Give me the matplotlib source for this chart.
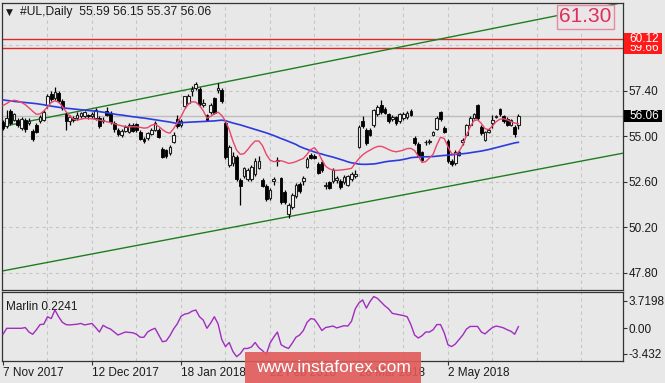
import matplotlib
matplotlib.use('Agg')
import matplotlib.pyplot as plt
from matplotlib.patches import Rectangle
import numpy as np

plt.rcParams['font.family'] = ['Liberation Sans', 'DejaVu Sans']

# ---------------------- data ----------------------
title_text = '#UL,Daily  55.59 56.15 55.37 56.06'

opens = [55.75, 55.55, 56.35, 55.85, 55.85, 55.45, 55.85, 55.72, 55.30, 55.60,
         55.78, 55.85, 56.65, 57.25, 57.00, 57.30, 56.85, 56.15, 55.80, 55.95,
         55.95, 56.05, 56.05, 56.10, 56.05, 55.95, 55.95, 55.78, 56.35, 56.25,
         55.70, 55.35, 55.05, 55.28, 55.25, 55.62, 55.65, 55.25, 54.88, 54.90,
         55.12, 55.35, 55.35, 54.35, 54.25, 54.10, 54.72, 55.92, 55.60, 56.60,
         56.75, 57.40, 57.55, 57.50, 56.65, 56.10, 56.30, 57.00, 57.45, 57.45,
         55.70, 53.50, 53.60, 53.90, 52.70, 52.88, 52.75, 52.72, 53.00, 53.35,
         52.70, 52.40, 51.75, 52.62, 53.70, 52.78, 52.05, 50.88, 51.25, 51.85,
         52.50, 52.62, 53.40, 54.00, 53.98, 53.55, 53.65, 52.35, 52.58, 52.65,
         52.70, 52.65, 52.60, 52.45, 52.72, 52.90, 54.45, 55.78, 55.35, 55.35,
         55.60, 56.15, 56.65, 56.45, 56.15, 55.90, 56.00, 55.78, 55.95, 56.00,
         56.32, 54.90, 54.60, 54.15, 54.68, 54.70, 55.08, 55.40, 56.30, 55.45,
         54.75, 53.70, 53.60, 54.02, 54.68, 55.08, 55.60, 55.95, 56.65, 55.50,
         54.82, 55.25, 55.70, 56.02, 56.45, 56.05, 55.92, 55.60, 55.50, 55.59]
highs = [55.85, 56.40, 56.45, 56.25, 55.95, 56.00, 55.95, 55.95, 55.40, 55.70,
         56.10, 56.40, 57.25, 57.40, 57.62, 57.40, 56.95, 56.30, 56.10, 56.05,
         56.30, 56.30, 56.35, 56.20, 56.30, 56.48, 56.05, 56.00, 56.55, 56.35,
         55.80, 55.45, 55.40, 55.58, 55.68, 55.72, 55.72, 55.35, 54.98, 55.22,
         55.45, 55.78, 55.45, 54.45, 54.35, 54.55, 55.25, 56.12, 55.90, 57.15,
         57.25, 57.65, 57.88, 57.60, 56.95, 56.20, 56.75, 57.05, 57.82, 57.55,
         55.85, 54.55, 54.15, 54.00, 52.80, 53.40, 53.30, 53.50, 53.85, 53.95,
         52.80, 52.50, 52.25, 52.86, 53.90, 52.85, 52.15, 51.50, 52.00, 52.55,
         52.60, 52.90, 53.90, 54.10, 54.05, 53.65, 53.75, 52.60, 52.65, 53.30,
         52.90, 52.72, 52.95, 52.98, 53.10, 53.20, 55.60, 56.05, 55.45, 55.45,
         56.45, 56.65, 56.92, 56.55, 56.25, 56.10, 56.08, 56.22, 56.28, 56.35,
         56.45, 55.00, 54.68, 54.22, 54.82, 54.85, 55.30, 56.05, 56.35, 55.55,
         54.85, 53.78, 54.25, 54.25, 54.90, 55.65, 56.05, 56.25, 56.70, 55.58,
         55.30, 55.42, 56.10, 56.12, 56.50, 56.12, 56.00, 55.92, 55.58, 56.15]
lows = [55.35, 55.45, 55.60, 55.80, 55.50, 55.35, 55.25, 55.60, 54.75, 55.15,
        55.70, 55.80, 56.50, 56.85, 56.90, 56.75, 56.40, 55.35, 55.60, 55.75,
        55.85, 55.95, 55.95, 55.90, 55.95, 55.88, 55.42, 55.70, 56.05, 55.65,
        55.25, 55.00, 54.98, 55.20, 55.18, 55.22, 55.25, 54.78, 54.65, 54.82,
        55.05, 55.30, 54.90, 53.85, 53.85, 54.02, 54.65, 55.45, 55.50, 56.50,
        56.70, 57.15, 57.45, 56.60, 56.55, 55.78, 56.20, 56.15, 57.30, 56.75,
        53.80, 53.40, 53.45, 52.65, 51.35, 52.80, 52.65, 52.65, 52.90, 53.25,
        52.30, 51.60, 51.65, 52.43, 53.45, 51.45, 51.45, 50.68, 51.15, 51.75,
        52.00, 52.45, 53.30, 53.78, 53.78, 53.00, 53.10, 52.20, 52.20, 52.55,
        52.55, 52.22, 52.50, 52.40, 52.65, 52.80, 54.40, 55.45, 54.55, 55.00,
        55.50, 56.05, 56.20, 56.15, 55.72, 55.82, 55.62, 55.70, 55.88, 55.92,
        56.05, 54.55, 53.88, 53.68, 54.55, 54.58, 55.00, 55.35, 55.80, 55.15,
        53.60, 53.45, 53.50, 53.95, 54.55, 55.00, 55.55, 55.90, 55.88, 55.08,
        54.75, 55.18, 55.45, 55.95, 56.05, 55.70, 55.55, 55.52, 54.97, 55.37]
closes = [55.45, 55.95, 55.70, 56.15, 55.60, 55.90, 55.40, 55.82, 54.85, 55.25,
          56.00, 56.28, 57.15, 56.95, 57.35, 56.85, 56.50, 55.80, 56.00, 55.87,
          56.10, 56.22, 56.28, 56.07, 56.20, 56.38, 55.52, 55.88, 56.12, 55.75,
          55.38, 55.10, 55.30, 55.48, 55.58, 55.30, 55.32, 54.85, 54.75, 55.15,
          55.35, 55.68, 54.98, 53.92, 53.95, 54.45, 55.05, 55.55, 55.80, 57.10,
          57.15, 57.50, 57.75, 56.70, 56.75, 55.88, 56.65, 56.25, 57.55, 56.85,
          53.90, 54.45, 53.95, 52.72, 52.38, 53.30, 53.20, 53.40, 53.70, 53.72,
          52.38, 51.68, 52.15, 52.72, 53.75, 51.55, 51.55, 51.38, 51.90, 52.42,
          52.10, 52.78, 53.82, 53.85, 53.85, 53.08, 53.20, 52.45, 52.28, 53.20,
          52.78, 52.30, 52.85, 52.88, 53.02, 53.02, 55.50, 55.55, 54.65, 55.08,
          56.38, 56.55, 56.30, 56.22, 55.80, 56.00, 55.70, 56.15, 56.20, 56.22,
          56.12, 54.65, 53.95, 53.75, 54.72, 54.74, 55.22, 55.95, 55.90, 55.25,
          53.70, 53.55, 54.18, 54.18, 54.78, 55.58, 55.95, 56.20, 55.95, 55.15,
          55.22, 55.32, 55.85, 56.06, 56.15, 55.78, 55.62, 55.85, 55.10, 56.06]

fast_ma = [56.62, 56.73, 56.85, 56.90, 56.86, 56.78, 56.67, 56.50, 56.32, 56.16,
           56.18, 56.33, 56.55, 56.78, 56.87, 56.80, 56.58, 56.30, 56.06, 55.90,
           55.85, 55.90, 55.94, 55.94, 55.92, 55.89, 55.85, 55.81, 55.77, 55.72,
           55.66, 55.60, 55.55, 55.51, 55.50, 55.50, 55.50, 55.47, 55.43, 55.45,
           55.58, 55.64, 55.52, 55.35, 55.22, 55.16, 55.40, 55.72, 56.03, 56.42,
           56.70, 56.82, 56.80, 56.62, 56.35, 55.95, 56.05, 56.18, 56.27, 56.10,
           55.80, 55.35, 54.75, 54.27, 54.05, 54.08, 54.30, 54.55, 54.75, 54.75,
           54.50, 54.05, 53.75, 53.66, 53.68, 53.71, 53.65, 53.57, 53.60, 53.66,
           53.75, 53.83, 54.05, 54.30, 54.40, 54.15, 53.75, 53.42, 53.28, 53.22,
           53.20, 53.22, 53.24, 53.27, 53.31, 53.58, 53.82, 54.02, 54.16, 54.27,
           54.38, 54.46, 54.47, 54.40, 54.30, 54.22, 54.18, 54.22, 54.27, 54.35,
           54.36, 54.25, 53.95, 53.62, 53.66, 53.85, 54.05, 54.55, 54.95, 54.88,
           54.45, 54.08, 54.05, 54.20, 54.55, 55.05, 55.50, 55.82, 55.87, 55.68,
           55.40, 55.35, 55.55, 55.77, 55.90, 55.92, 55.86, 55.77, 55.70, 55.66]

slow_ma = [56.92, 56.89, 56.87, 56.84, 56.82, 56.80, 56.78, 56.76, 56.74, 56.72,
           56.69, 56.66, 56.62, 56.59, 56.56, 56.53, 56.50, 56.48, 56.46, 56.44,
           56.42, 56.40, 56.38, 56.36, 56.34, 56.32, 56.30, 56.27, 56.24, 56.21,
           56.17, 56.14, 56.12, 56.09, 56.06, 56.03, 56.01, 55.98, 55.96, 55.93,
           55.90, 55.87, 55.84, 55.81, 55.78, 55.75, 55.71, 55.68, 55.70, 55.73,
           55.74, 55.75, 55.76, 55.77, 55.78, 55.79, 55.80, 55.81, 55.83, 55.85,
           55.82, 55.76, 55.70, 55.65, 55.60, 55.54, 55.48, 55.42, 55.36, 55.30,
           55.24, 55.18, 55.11, 55.04, 54.96, 54.88, 54.81, 54.73, 54.65, 54.57,
           54.46, 54.38, 54.31, 54.24, 54.17, 54.11, 54.06, 54.00, 53.95, 53.90,
           53.84, 53.78, 53.72, 53.65, 53.60, 53.57, 53.53, 53.52, 53.52, 53.53,
           53.54, 53.57, 53.61, 53.65, 53.68, 53.70, 53.72, 53.74, 53.78, 53.82,
           53.87, 53.89, 53.90, 53.91, 53.92, 53.92, 53.93, 53.95, 53.97, 53.99,
           54.00, 54.02, 54.04, 54.06, 54.08, 54.10, 54.13, 54.16, 54.19, 54.22,
           54.26, 54.30, 54.35, 54.40, 54.45, 54.50, 54.55, 54.60, 54.65, 54.68]

marlin = [-0.8, 0.0, 0.0, 0.0, 0.0, 0.0, 0.1, -0.5, -0.8, -0.2,
          0.5, 0.55, 1.55, 1.3, 2.45, 1.55, 0.8, 0.5, 0.45, 0.5,
          0.55, 0.65, 0.45, 0.55, 0.65, 0.1, -0.5, 0.4, 0.1, -0.1,
          -0.5, -0.9, -0.7, -0.5, -0.55, -0.6, -0.8, -1.2, -1.2, -0.5,
          -0.2, 0.0, -0.9, -1.8, -1.7, -1.0, -0.1, 0.6, 1.6, 1.9,
          2.0, 2.3, 2.45, 1.55, 1.1, 0.0, 0.7, 1.55, 0.6, -1.5,
          -2.45, -1.9, -3.1, -3.8, -3.4, -2.7, -2.7, -2.5, -1.9, -2.6,
          -3.0, -3.5, -2.0, -1.2, -0.5, -2.2, -2.5, -2.7, -2.0, -1.2,
          -0.9, -0.3, 0.8, 1.3, 1.2, 0.5, -0.3, 0.1, 0.2, 0.3,
          0.05, 0.2, 0.35, 0.3, 0.95, 2.6, 3.4, 3.8, 2.7, 3.6,
          4.25, 4.0, 3.5, 3.0, 2.6, 2.0, 1.9, 1.8, 1.7, 1.55,
          0.5, -0.9, -1.3, -1.0, -0.5, -0.5, -0.2, 0.5, 0.5, -0.6,
          -2.2, -2.45, -2.1, -1.5, -0.9, -0.1, 0.25, 0.25, 0.25, -0.5,
          -0.75, -0.3, 0.1, 0.3, 0.2, 0.05, -0.2, -0.4, -0.8, 0.2241]

marlin_label = 'Marlin 0.2241'

# channel lines: (bar, price) anchors
upper_channel_bars = [0, 167]
upper_channel_prices = [55.52, 62.05]
lower_channel_bars = [0, 167]
lower_channel_prices = [47.90, 54.10]

resistance_levels = [60.12, 59.66]
last_price = 56.06
target_label = '61.30'
target_bar = 157.1
target_price = 61.30

price_ticks = [47.80, 50.20, 52.60, 55.00, 57.40, 59.80]
price_tick_labels = ['47.80', '50.20', '52.60', '55.00', '57.40', '']
marlin_ticks = [-3.432, 0.0, 3.7198]
marlin_tick_labels = ['-3.432', '0.00', '3.7198']
date_bars = [0, 24, 48, 72, 96, 120]
date_labels = ['7 Nov 2017', '12 Dec 2017', '18 Jan 2018', '22 Feb 2018',
               '28 Mar 2018', '2 May 2018']

# ---------------------- layout ----------------------
W, H = 665, 383
bg = '#e8e8e8'
grid_c = '#c6c6c6'
txt_c = '#1a1a1a'

fig = plt.figure(figsize=(W / 100, H / 100), dpi=100, facecolor=bg)
ax = fig.add_axes([2 / W, 1 - 290 / H, 620.7 / W, 287 / H], facecolor=bg)
ax2 = fig.add_axes([2 / W, 1 - 361 / H, 620.7 / W, 68.7 / H], facecolor=bg)

xlim = (-0.27, 167.13)
bars = np.arange(len(closes))
grid_bars = np.arange(0, 168, 12)

# ---------------------- main panel ----------------------
ax.set_xlim(*xlim)
ax.set_ylim(46.89, 62.03)

for gb in grid_bars[1:]:
    ax.axvline(gb, color=grid_c, lw=0.8, ls=(0, (3, 3)), zorder=0)
for p in price_ticks:
    ax.axhline(p, color=grid_c, lw=0.8, ls=(0, (3, 3)), zorder=0)

ax.axhline(last_price, color='#bdbdbd', lw=1, zorder=1)
for lvl in resistance_levels:
    ax.axhline(lvl, color='#e02828', lw=1, zorder=2)

ax.plot(upper_channel_bars, upper_channel_prices, color='#1f7d1f', lw=1, zorder=2)
ax.plot(lower_channel_bars, lower_channel_prices, color='#1f7d1f', lw=1, zorder=2)

o = np.array(opens)
c = np.array(closes)
hi = np.array(highs)
lo = np.array(lows)
up = c >= o
body_lo = np.minimum(o, c)
body_h = np.maximum(np.abs(c - o), 0.03)

ax.vlines(bars, lo, hi, color='black', lw=0.9, zorder=3)
ax.bar(bars[up], body_h[up], bottom=body_lo[up], width=0.72,
       facecolor='white', edgecolor='#202020', linewidth=0.8, zorder=4)
ax.bar(bars[~up], body_h[~up], bottom=body_lo[~up], width=0.72,
       facecolor='black', edgecolor='black', linewidth=0.6, zorder=4)

ax.plot(bars, slow_ma, color='#2b3be0', lw=1.2, zorder=5)
ax.plot(bars, fast_ma, color='#e8476a', lw=1.0, zorder=5)

ax.text(target_bar, target_price, target_label, color='#dc2f5c', fontsize=15,
        family=['Liberation Sans Narrow', 'Liberation Sans', 'DejaVu Sans'],
        ha='center', va='center', zorder=6,
        bbox=dict(boxstyle='square,pad=0.12', facecolor='#ece4e7',
                  edgecolor='#e58aa4', linewidth=1))

ax.yaxis.tick_right()
ax.set_yticks(price_ticks)
ax.set_yticklabels(price_tick_labels)
ax.set_xticks(grid_bars)
ax.set_xticklabels([])
ax.tick_params(axis='y', length=3, width=0.8, pad=1.5, labelsize=8.5,
               labelcolor=txt_c, color='#333333')
ax.tick_params(axis='x', length=0)

# header text
ax.text(0.0064, 0.967, '\u25bc', transform=ax.transAxes, fontsize=6.5,
        family=['DejaVu Sans'], va='center', ha='left', color=txt_c)
ax.text(0.029, 0.967, title_text, transform=ax.transAxes, fontsize=8.7,
        va='center', ha='left', color=txt_c)

# price boxes on right axis
y0, y1 = ax.get_ylim()


def yfrac(p):
    return (p - y0) / (y1 - y0)


box_x = (624 - 2) / 620.7
box_w = 38 / 620.7
txt_x = (629 - 2) / 620.7
bh = 11.5 / 287
for lvl, fc, z in [(resistance_levels[1], '#ff1a1a', 7),
                   (resistance_levels[0], '#ff1a1a', 9),
                   (last_price, 'black', 7)]:
    ax.add_patch(Rectangle((box_x, yfrac(lvl) - bh / 2), box_w, bh,
                           transform=ax.transAxes, clip_on=False,
                           facecolor=fc, edgecolor='none', zorder=z))
    ax.text(txt_x, yfrac(lvl), '%.2f' % lvl, transform=ax.transAxes,
            color='white', fontsize=8.5, ha='left', va='center',
            clip_on=False, zorder=z + 1)

# ---------------------- indicator panel ----------------------
ax2.set_xlim(*xlim)
ax2.set_ylim(-4.38, 4.82)
for gb in grid_bars[1:]:
    ax2.axvline(gb, color=grid_c, lw=0.8, ls=(0, (3, 3)), zorder=0)
ax2.plot(bars, marlin, color='#a12cc0', lw=1.0, zorder=3)
ax2.text(0.0064, 0.786, marlin_label, transform=ax2.transAxes, fontsize=8.5,
         va='center', ha='left', color=txt_c)

ax2.yaxis.tick_right()
ax2.set_yticks(marlin_ticks)
ax2.set_yticklabels(marlin_tick_labels)
ax2.tick_params(axis='y', length=3, width=0.8, pad=1.5, labelsize=8.5,
                labelcolor=txt_c, color='#333333')
ax2.set_xticks(date_bars)
ax2.set_xticklabels(date_labels, ha='left')
ax2.tick_params(axis='x', length=3, width=0.8, pad=1, labelsize=8.5,
                labelcolor=txt_c, color='#333333')

for a in (ax, ax2):
    for s in a.spines.values():
        s.set_color('#333333')
        s.set_linewidth(0.9)

# watermark
fig.add_artist(Rectangle((245 / W, 0), 176 / W, 31 / H, transform=fig.transFigure,
                         facecolor='#e25a5a', edgecolor='none', alpha=0.9, zorder=10))
fig.text(333 / W, 1 - 367 / H, 'www.instaforex.com', color='white', fontsize=12.5,
         ha='center', va='center', zorder=11)

fig.savefig('out.png', dpi=100, facecolor=bg)
